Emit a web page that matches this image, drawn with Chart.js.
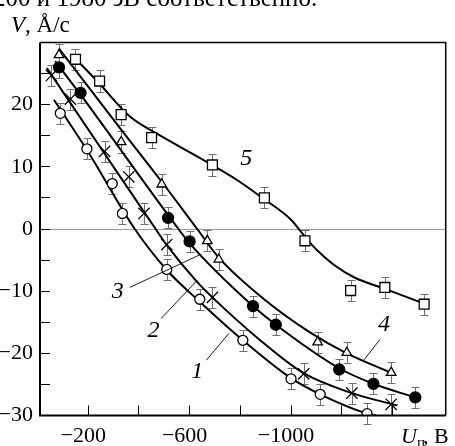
<!DOCTYPE html>
<html>
<head>
<meta charset="utf-8">
<script src="https://cdn.jsdelivr.net/npm/chart.js@4/dist/chart.umd.min.js"></script>
<style>
  html, body { margin: 0; padding: 0; background: #fff; }
  canvas { display: block; }
</style>
</head>
<body>
<canvas id="myChart" width="455" height="446"></canvas>
<script>
// DONNEES : U (V, valeur absolue) et V (Å/c)

// courbe 1 (cercles vides)
const u1 = [90, 195, 295, 335, 510, 640, 810, 1000, 1115, 1300];
const v1 = [18.6, 12.9, 7.3, 2.5, -6.5, -11.3, -17.9, -24.1, -26.6, -29.7];
// courbe 2 (croix)
const u2 = [55, 130, 265, 360, 420, 510, 690, 1050, 1240, 1395];
const v2 = [24.7, 20.9, 12.5, 8.4, 2.5, -2.5, -11.0, -23.3, -26.4, -28.2];
// courbe 3 (cercles pleins)
const u3 = [85, 170, 515, 600, 850, 940, 1190, 1325, 1490];
const v3 = [26.0, 21.9, 1.8, -2.0, -12.4, -15.4, -22.6, -24.9, -27.1];
// courbe 4 (triangles)
const u4 = [85, 330, 490, 670, 715, 1105, 1220, 1395];
const v4 = [28.0, 14.0, 7.2, -1.9, -4.9, -18.2, -19.9, -23.1];
// courbe 5 (carres)
const u5 = [150, 245, 330, 450, 690, 895, 1055, 1235, 1370, 1525];
const v5 = [27.3, 23.8, 18.4, 14.7, 10.3, 5.0, -1.9, -9.9, -9.4, -12.1];

// barre d'erreur (Å/c)
const errV = 1.7;

// courbes lissees
const fu1 = [65, 200, 384, 510, 640, 810, 1000, 1115, 1300, 1335];
const fv1 = [20.8, 12.4, 0, -6.6, -11.7, -17.9, -24.0, -26.6, -29.7, -30.0];
const fu2 = [37, 265, 466, 510, 625, 690, 870, 1050, 1240, 1420];
const fv2 = [25.9, 12.1, 0, -2.6, -8.3, -11.0, -17.6, -23.2, -26.4, -28.4];
const fu3 = [70, 170, 556, 600, 850, 940, 1190, 1325, 1490];
const fv3 = [27.0, 21.6, 0, -2.3, -12.4, -15.4, -22.4, -24.9, -27.1];
const fu4 = [85, 330, 490, 630, 715, 900, 1070, 1220, 1400];
const fv4 = [29.0, 16.0, 7.6, 0, -4.6, -11.5, -16.5, -20.0, -23.2];
const fu5 = [145, 235, 367, 473, 680, 790, 887, 1000, 1050, 1100, 1170, 1250, 1368, 1525];
const fv5 = [27.6, 23.8, 18.0, 15.3, 10.5, 7.8, 5.0, 1.5, -1.0, -3.3, -5.8, -7.8, -9.6, -12.0];

// graduations
const xTicks = [200, 400, 600, 800, 1000, 1200, 1400];
const xLabels = [200, 600, 1000];
const yTicks = [-30, -25, -20, -15, -10, -5, 0, 5, 10, 15, 20, 25];
const yLabels = [-30, -20, -10, 0, 10, 20];

// numeros des courbes
const numCourbes = ['1', '2', '3', '4', '5'];
const numPos = [[630, -23.0], [458, -16.3], [317, -10.1], [1367, -15.4], [823, 11.25]];
const traits = [
    [[666, -21.1], [755, -16.8]],
    [[488, -14.4], [631, -8.2]],
    [[364, -9.4], [638, -4.2]],
    [[1350, -17.8], [1283, -21.3]],
    null
];

const pts = (xs, ys) => xs.map((x, i) => ({ x: x, y: ys[i] }));
const moins = v => (v < 0 ? '\u2212' + (-v) : String(v));

Chart.defaults.font.family = "'Liberation Serif', 'Times New Roman', serif";
Chart.defaults.color = '#000';

function courbe(xs, ys) {
    return {
        data: pts(xs, ys),
        showLine: true,
        borderColor: '#000',
        borderWidth: 2,
        pointRadius: 0,
        cubicInterpolationMode: 'monotone',
        order: 2
    };
}

function mesures(xs, ys, style, radius, fill) {
    return {
        data: pts(xs, ys),
        showLine: false,
        err: errV,
        pointStyle: style,
        pointRadius: radius,
        pointBackgroundColor: fill,
        pointBorderColor: '#000',
        pointBorderWidth: 1.3,
        order: 1
    };
}

const errorBars = {
    id: 'errorBars',
    beforeDatasetsDraw(chart) {
        const { ctx, scales: { x, y } } = chart;
        ctx.save();
        ctx.strokeStyle = '#707070';
        ctx.lineWidth = 1;
        chart.data.datasets.forEach(ds => {
            if (!ds.err) return;
            ds.data.forEach(p => {
                const px = Math.round(x.getPixelForValue(p.x)) + 0.5;
                const y1 = Math.round(y.getPixelForValue(p.y + ds.err)) + 0.5;
                const y2 = Math.round(y.getPixelForValue(p.y - ds.err)) + 0.5;
                ctx.beginPath();
                ctx.moveTo(px, y1); ctx.lineTo(px, y2);
                ctx.moveTo(px - 4, y1); ctx.lineTo(px + 4, y1);
                ctx.moveTo(px - 4, y2); ctx.lineTo(px + 4, y2);
                ctx.stroke();
            });
        });
        ctx.restore();
    }
};

const decor = {
    id: 'decor',
    afterDatasetsDraw(chart) {
        const { ctx, scales: { x, y } } = chart;
        ctx.save();
        // traits de rappel
        ctx.strokeStyle = '#000';
        ctx.lineWidth = 0.9;
        traits.forEach(t => {
            if (!t) return;
            ctx.beginPath();
            ctx.moveTo(x.getPixelForValue(t[0][0]), y.getPixelForValue(t[0][1]));
            ctx.lineTo(x.getPixelForValue(t[1][0]), y.getPixelForValue(t[1][1]));
            ctx.stroke();
        });
        // numeros
        ctx.fillStyle = '#000';
        ctx.font = "italic 24px 'Liberation Serif', serif";
        ctx.textAlign = 'center';
        ctx.textBaseline = 'middle';
        numCourbes.forEach((n, i) => {
            ctx.fillText(n, x.getPixelForValue(numPos[i][0]), y.getPixelForValue(numPos[i][1]));
        });
        ctx.restore();
    },
    afterDraw(chart) {
        const { ctx, chartArea: a } = chart;
        ctx.save();
        // cadre
        ctx.strokeStyle = '#000';
        ctx.lineWidth = 1.5;
        ctx.beginPath();
        ctx.moveTo(a.left, a.top); ctx.lineTo(a.right, a.top); ctx.lineTo(a.right, a.bottom);
        ctx.stroke();
        ctx.lineWidth = 2;
        ctx.beginPath();
        ctx.moveTo(a.left, a.top); ctx.lineTo(a.left, a.bottom); ctx.lineTo(a.right, a.bottom);
        ctx.stroke();

        ctx.fillStyle = '#000';
        ctx.textAlign = 'left';
        ctx.textBaseline = 'alphabetic';
        // ligne de texte coupee en haut
        ctx.font = "25px 'Liberation Serif', serif";
        ctx.fillText('200 и 1980 эВ соответственно.', -7, 6);
        // titre axe Y
        ctx.font = "italic 23px 'Liberation Serif', serif";
        ctx.fillText('V', 11, 32);
        let w = ctx.measureText('V').width;
        ctx.font = "23px 'Liberation Serif', serif";
        ctx.fillText(', Å/c', 11 + w, 32);
        // titre axe X
        ctx.font = "italic 22px 'Liberation Serif', serif";
        ctx.fillText('U', 401, 443);
        w = ctx.measureText('U').width;
        ctx.font = "15px 'Liberation Serif', serif";
        ctx.fillText('п', 401 + w, 447);
        ctx.font = "22px 'Liberation Serif', serif";
        ctx.fillText(', В', 423, 443);
        ctx.restore();
    }
};

const data = {
    datasets: [
        courbe(fu1, fv1),
        courbe(fu2, fv2),
        courbe(fu3, fv3),
        courbe(fu4, fv4),
        courbe(fu5, fv5),
        mesures(u1, v1, 'circle', 5, '#fff'),
        mesures(u2, v2, 'crossRot', 8, '#000'),
        mesures(u3, v3, 'circle', 5.5, '#000'),
        mesures(u4, v4, 'triangle', 5.5, '#fff'),
        mesures(u5, v5, 'rect', 7, '#fff')
    ]
};

const config = {
    type: 'scatter',
    data: data,
    options: {
        responsive: false,
        animation: false,
        layout: { padding: { left: 0, right: 7, top: 42.5, bottom: 0 } },
        plugins: { legend: { display: false }, tooltip: { enabled: false } },
        scales: {
            x: {
                type: 'linear',
                min: 10,
                max: 1610,
                afterBuildTicks: axis => { axis.ticks = xTicks.map(v => ({ value: v })); },
                afterFit: axis => { axis.height = 30.5; },
                ticks: {
                    autoSkip: false,
                    maxRotation: 0,
                    padding: 17.5,
                    labelOffset: -5,
                    font: { size: 22 },
                    color: '#000',
                    callback: v => (xLabels.includes(v) ? moins(-v) : '')
                },
                grid: { drawOnChartArea: false, tickLength: -10, tickColor: '#000', tickWidth: 1 },
                border: { display: false }
            },
            y: {
                type: 'linear',
                min: -30,
                max: 30,
                afterBuildTicks: axis => { axis.ticks = yTicks.map(v => ({ value: v })); },
                afterFit: axis => { axis.width = 40; },
                ticks: {
                    autoSkip: false,
                    padding: 17,
                    font: { size: 22 },
                    color: '#000',
                    callback: v => (yLabels.includes(v) ? moins(v) : '')
                },
                grid: {
                    drawOnChartArea: true,
                    color: c => (c.tick && c.tick.value === 0 ? '#9a9a9a' : 'rgba(0,0,0,0)'),
                    tickColor: '#000',
                    tickLength: -10,
                    tickWidth: 1
                },
                border: { display: false }
            }
        }
    },
    plugins: [errorBars, decor]
};

const myChart = new Chart(document.getElementById('myChart'), config);
</script>
</body>
</html>
